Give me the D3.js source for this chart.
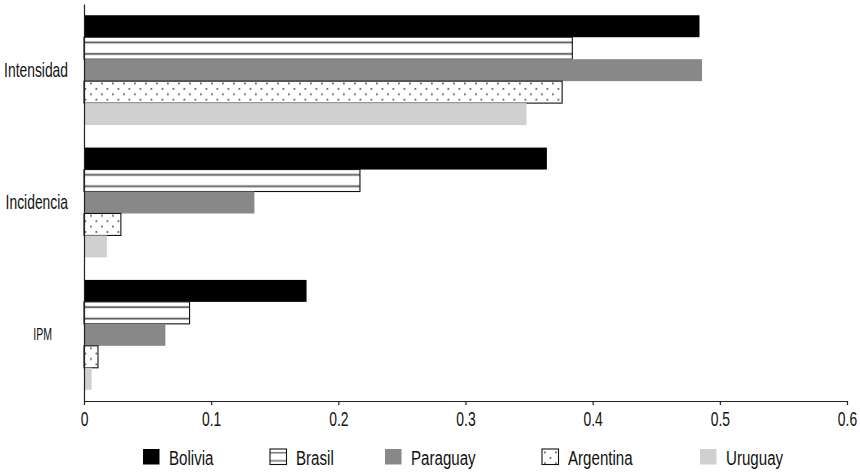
<!DOCTYPE html>
<html lang="es">
<head>
    <meta charset="UTF-8">
    <title>IPM, Incidencia e Intensidad</title>
    <script src="https://d3js.org/d3.v7.min.js"></script>
    <style>
        body {
            margin: 0;
            background: #fff;
            font-family: 'Liberation Sans', Arial, sans-serif;
        }
        .axis text, .legend text {
            font-family: 'Liberation Sans', Arial, sans-serif;
            font-size: 21px;
            fill: #111;
        }
        .axis path, .axis line {
            stroke: #222;
            stroke-width: 1.2;
        }
    </style>
</head>
<body>
    <div id="chart"></div>

    <script>
        // categories, top to bottom
        const categories = ["Intensidad", "Incidencia", "IPM"];
        const countries = ["Bolivia", "Brasil", "Paraguay", "Argentina", "Uruguay"];

        // values per country, in category order
        const bolivia   = [0.484, 0.364, 0.175];
        const brasil    = [0.384, 0.217, 0.083];
        const paraguay  = [0.486, 0.134, 0.064];
        const argentina = [0.376, 0.029, 0.011];
        const uruguay   = [0.348, 0.018, 0.006];

        const xTicks = [0, 0.1, 0.2, 0.3, 0.4, 0.5, 0.6];

        const seriesValues = { Bolivia: bolivia, Brasil: brasil, Paraguay: paraguay, Argentina: argentina, Uruguay: uruguay };

        const width = 860, height = 474;
        const squeeze = 0.66;       // the original font is very condensed
        const legendSqueeze = 0.72;

        const svg = d3.select("#chart")
            .append("svg")
            .attr("width", width)
            .attr("height", height);

        // fills: solid or patterns
        const defs = svg.append("defs");

        const stripes = defs.append("pattern")
            .attr("id", "stripes")
            .attr("patternUnits", "objectBoundingBox")
            .attr("patternContentUnits", "objectBoundingBox")
            .attr("width", 1).attr("height", 1);
        stripes.append("rect").attr("width", 1).attr("height", 1).attr("fill", "#fff");
        stripes.append("rect").attr("y", 0.2).attr("width", 1).attr("height", 0.08).attr("fill", "#555");
        stripes.append("rect").attr("y", 0.72).attr("width", 1).attr("height", 0.08).attr("fill", "#555");

        const dots = defs.append("pattern")
            .attr("id", "dots")
            .attr("patternUnits", "userSpaceOnUse")
            .attr("width", 11).attr("height", 10.8);
        dots.append("rect").attr("width", 11).attr("height", 10.8).attr("fill", "#fff");
        dots.append("rect").attr("x", 2).attr("y", 2.5).attr("width", 1.8).attr("height", 1.8).attr("fill", "#666");
        dots.append("rect").attr("x", 7.5).attr("y", 7.9).attr("width", 1.8).attr("height", 1.8).attr("fill", "#666");

        const fills = {
            Bolivia: "#000",
            Brasil: "url(#stripes)",
            Paraguay: "#888888",
            Argentina: "url(#dots)",
            Uruguay: "#cfd1d1"
        };
        const outlined = { Brasil: true, Argentina: true };

        const x = d3.scaleLinear()
            .domain([0, 0.6])
            .range([84, 847]);

        const y = d3.scaleBand()
            .domain(categories)
            .range([4, 401])
            .paddingInner(0.17)
            .paddingOuter(0.085);

        const ySub = d3.scaleBand()
            .domain(countries)
            .range([0, y.bandwidth()]);

        // bars
        const groups = svg.append("g")
            .selectAll("g")
            .data(categories)
            .join("g")
            .attr("transform", d => `translate(0,${y(d)})`);

        groups.selectAll("rect")
            .data((c, i) => countries.map(k => ({ key: k, value: seriesValues[k][i] })))
            .join("rect")
            .attr("x", x(0))
            .attr("y", d => ySub(d.key))
            .attr("width", d => x(d.value) - x(0))
            .attr("height", ySub.bandwidth())
            .attr("fill", d => fills[d.key])
            .attr("stroke", d => outlined[d.key] ? "#111" : "none")
            .attr("stroke-width", 1.1);

        // x axis
        svg.append("g")
            .attr("class", "axis")
            .attr("transform", "translate(0,401)")
            .call(d3.axisBottom(x).tickValues(xTicks).tickFormat(d3.format("")).tickSize(4).tickSizeOuter(0).tickPadding(6))
            .selectAll("text")
            .attr("transform", `scale(${squeeze},1)`);

        // y axis
        const yAxis = svg.append("g")
            .attr("class", "axis")
            .attr("transform", "translate(84,0)")
            .call(d3.axisLeft(y).tickSize(0).tickSizeOuter(0).tickPadding(16));
        yAxis.selectAll("text")
            .style("font-size", d => d === "IPM" ? "16px" : null)
            .attr("x", d => (d === "IPM" ? -32 : -16) / squeeze)
            .attr("transform", `scale(${squeeze},1)`);

        // legend
        const legendX = [143, 270, 385, 542, 700];
        const legend = svg.append("g")
            .attr("class", "legend")
            .selectAll("g")
            .data(countries)
            .join("g")
            .attr("transform", (d, i) => `translate(${legendX[i]},449)`);

        legend.append("rect")
            .attr("width", 16.5)
            .attr("height", 15.5)
            .attr("fill", d => fills[d])
            .attr("stroke", d => outlined[d] ? "#111" : "none")
            .attr("stroke-width", 1.1);

        legend.append("text")
            .attr("x", 26 / legendSqueeze)
            .attr("y", 15.8)
            .attr("transform", `scale(${legendSqueeze},1)`)
            .text(d => d);
    </script>
</body>
</html>
